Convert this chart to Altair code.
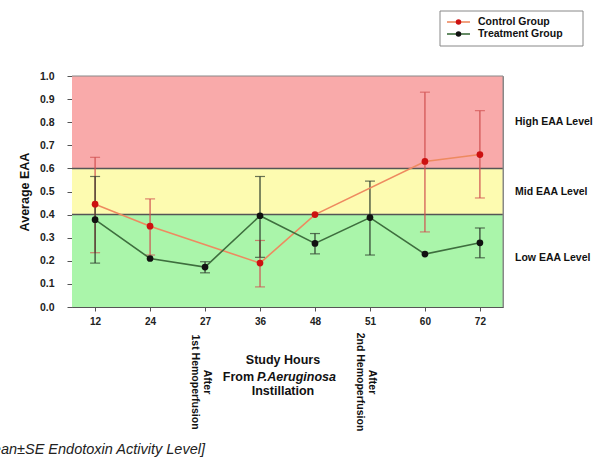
import altair as alt
import pandas as pd

# ---------------- data ----------------
hours = ["12", "24", "27", "36", "48", "51", "60", "72"]
groups = ["Control Group", "Treatment Group"]

control_mean = [0.445, 0.35, None, 0.19, 0.40, None, 0.63, 0.66]
control_lo = [0.235, 0.225, None, 0.087, None, None, 0.325, 0.472]
control_hi = [0.648, 0.468, None, 0.288, None, None, 0.93, 0.85]

treat_mean = [0.378, 0.21, 0.173, 0.395, 0.275, 0.387, 0.229, 0.278]
treat_lo = [0.19, None, 0.148, 0.215, 0.23, 0.225, None, 0.213]
treat_hi = [0.565, None, 0.196, 0.565, 0.318, 0.545, None, 0.342]

band_names = ["Low EAA Level", "Mid EAA Level", "High EAA Level"]
band_lo = [0.0, 0.4, 0.6]
band_hi = [0.4, 0.6, 1.0]
level_label_pos = [0.21, 0.5, 0.8]
thresholds = [0.4, 0.6]

y_ticks = [0.0, 0.1, 0.2, 0.3, 0.4, 0.5, 0.6, 0.7, 0.8, 0.9, 1.0]

hp_hours = ["27", "51"]
hp_after = ["After", "After"]
hp_event = ["1st Hemoperfusion", "2nd Hemoperfusion"]

xtitle_lines = ["Study Hours", "Instillation"]
footnote = "[Mean\u00b1SE Endotoxin Activity Level]"

# ---------------- styles ----------------
W, H = 431, 231
FONT = "Liberation Sans"
band_colors = ["#aaf5aa", "#fdfbb0", "#f9aaaa"]
line_colors = ["#ee8a60", "#3e6e3e"]
point_colors = ["#cc1111", "#111111"]
err_colors = ["#d05050", "#2c3a2c"]

rows = []
series = [(control_mean, control_lo, control_hi), (treat_mean, treat_lo, treat_hi)]
for g, (m, lo, hi) in zip(groups, series):
    for i, h in enumerate(hours):
        rows.append(dict(group=g, hour=h, idx=i, mean=m[i], lo=lo[i], hi=hi[i]))
df = pd.DataFrame(rows)

xscale = alt.Scale(type="point", domain=hours, padding=0.42)
yscale = alt.Scale(domain=[0, 1], nice=False, zero=False)
xaxis = alt.Axis(title=None, labelAngle=0, labelFont=FONT, labelFontSize=10,
                 labelFontWeight="bold", labelColor="#222", tickSize=4,
                 tickColor="#555", domainColor="#555", labelPadding=5, grid=False)
yaxis = alt.Axis(title="Average EAA", values=y_ticks, format=".1f", labelFont=FONT,
                 labelFontSize=10.5, labelFontWeight="bold", labelColor="#222",
                 tickSize=5, tickColor="#555", domainColor="#555", labelPadding=13,
                 titleFont=FONT, titleFontSize=12.5, titleFontWeight="bold",
                 titleColor="#111", titlePadding=8, grid=False)


def X(field="hour"):
    return alt.X(f"{field}:N", scale=xscale, axis=xaxis)


def Y(field):
    return alt.Y(f"{field}:Q", scale=yscale, axis=yaxis)


layers = []

# background bands
bdf = pd.DataFrame(dict(level=band_names, lo=band_lo, hi=band_hi))
bdf["col"] = band_colors
layers.append(
    alt.Chart(bdf).mark_rect().encode(
        x=alt.value(0), x2=alt.value(W), y=Y("lo"), y2="hi:Q",
        color=alt.Color("col:N", scale=None, legend=None)
    )
)
# threshold lines
layers.append(
    alt.Chart(pd.DataFrame(dict(y=thresholds))).mark_rule(color="#555", strokeWidth=1.5)
    .encode(y=Y("y"))
)
# border top/right
layers.append(
    alt.Chart(pd.DataFrame(dict(y=[1.0]))).mark_rule(color="#888", strokeWidth=1)
    .encode(y=Y("y"))
)
layers.append(
    alt.Chart(alt.Data(values=[{"a": 1}])).mark_rule(color="#888", strokeWidth=1)
    .encode(x=alt.value(W), y=alt.value(0), y2=alt.value(H))
)

# error bars
for gi, g in enumerate(groups):
    e = df[(df.group == g)].dropna(subset=["lo", "hi"])
    c = err_colors[gi]
    layers.append(alt.Chart(e).mark_rule(color=c, strokeWidth=1.2)
                  .encode(x=X(), y=Y("lo"), y2="hi:Q"))
    for f in ["lo", "hi"]:
        layers.append(alt.Chart(e).mark_tick(color=c, size=10, thickness=1.2,
                                             orient="horizontal")
                      .encode(x=X(), y=Y(f)))

# lines
for gi, g in enumerate(groups):
    p = df[(df.group == g)].dropna(subset=["mean"])
    layers.append(alt.Chart(p).mark_line(color=line_colors[gi], strokeWidth=1.6)
                  .encode(x=X(), y=Y("mean"), order="idx:Q"))
# points
for gi, g in enumerate(groups):
    p = df[(df.group == g)].dropna(subset=["mean"])
    layers.append(alt.Chart(p).mark_circle(color=point_colors[gi], size=45, opacity=1)
                  .encode(x=X(), y=Y("mean")))

# level labels on the right
ldf = pd.DataFrame(dict(t=band_names, y=level_label_pos))
layers.append(
    alt.Chart(ldf).mark_text(align="left", baseline="middle", font=FONT, fontSize=10.5,
                             fontWeight="bold", color="#111")
    .encode(x=alt.value(443), y=Y("y"), text="t:N")
)

# hemoperfusion annotations (rotated)
hdf = pd.DataFrame(dict(hour=hp_hours, after=hp_after, event=hp_event))
layers.append(
    alt.Chart(hdf).mark_text(angle=90, align="center", baseline="middle", font=FONT,
                             fontSize=10.5, fontWeight="bold", color="#111", dy=-2)
    .encode(x=X(), y=alt.value(306), text="after:N")
)
layers.append(
    alt.Chart(hdf).mark_text(angle=90, align="center", baseline="middle", font=FONT,
                             fontSize=10.5, fontWeight="bold", color="#111", dy=10)
    .encode(x=X(), y=alt.value(306), text="event:N")
)

# x title (three lines, middle one with italic part)
tdef = dict(baseline="middle", font=FONT, fontSize=12.5, fontWeight="bold", color="#111")
one = alt.Data(values=[{"a": 1}])
layers.append(alt.Chart(one).mark_text(align="center", text=xtitle_lines[0], **tdef)
              .encode(x=alt.value(211), y=alt.value(284)))
layers.append(alt.Chart(one).mark_text(align="right", text="From", **tdef)
              .encode(x=alt.value(182), y=alt.value(301)))
layers.append(alt.Chart(one).mark_text(align="left", text="P.Aeruginosa", fontStyle="italic", **tdef)
              .encode(x=alt.value(185), y=alt.value(301)))
layers.append(alt.Chart(one).mark_text(align="center", text=xtitle_lines[1], **tdef)
              .encode(x=alt.value(211), y=alt.value(315)))

# footnote (partly cut off at the left edge, as in the source figure)
layers.append(alt.Chart(one).mark_text(align="right", baseline="middle", text=footnote,
                                       font=FONT, fontSize=14.5, fontStyle="italic",
                                       color="#222")
              .encode(x=alt.value(133), y=alt.value(374)))

# manual legend
layers.append(alt.Chart(one).mark_rect(fill="white", stroke="#888", strokeWidth=1)
              .encode(x=alt.value(368), x2=alt.value(511), y=alt.value(-65), y2=alt.value(-30)))
leg_y = [-54, -42]
for gi, g in enumerate(groups):
    layers.append(alt.Chart(one).mark_rule(color=line_colors[gi], strokeWidth=1.6)
                  .encode(x=alt.value(375), x2=alt.value(398), y=alt.value(leg_y[gi])))
    layers.append(alt.Chart(one).mark_circle(color=point_colors[gi], size=30, opacity=1)
                  .encode(x=alt.value(386.5), y=alt.value(leg_y[gi])))
    layers.append(alt.Chart(one).mark_text(align="left", baseline="middle", text=g,
                                           font=FONT, fontSize=10.5, fontWeight="bold",
                                           color="#111")
                  .encode(x=alt.value(406), y=alt.value(leg_y[gi])))

chart = alt.layer(*layers).properties(
    width=W, height=H,
    padding={"left": 72, "top": 76, "right": 92, "bottom": 152},
    autosize=alt.AutoSizeParams(type="none"),
    background="white",
).configure_view(stroke="#888", strokeWidth=1)

chart.save("out.html", embed_options={"renderer": "svg", "actions": False})
